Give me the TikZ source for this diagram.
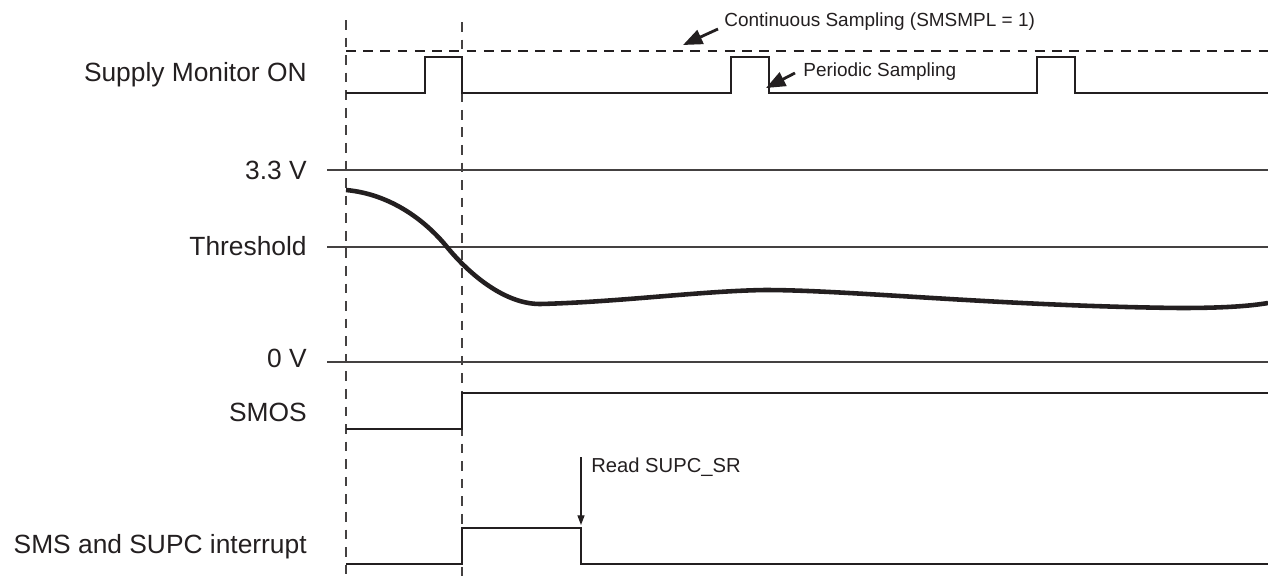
\documentclass[tikz,border=0pt]{standalone}
\usepackage{fontspec}
\setmainfont{Liberation Sans}
\usetikzlibrary{arrows.meta}
\definecolor{ink}{RGB}{35,31,32}
\tikzset{
  biglabel/.style={anchor=east, inner sep=0pt, text=ink, font=\fontsize{15}{18}\selectfont},
  smalllabel/.style={anchor=west, inner sep=0pt, text=ink, font=\fontsize{10.8}{13}\selectfont},
  wave/.style={draw=ink, line width=1.45pt, line join=miter},
  level/.style={draw=ink!85, line width=0.8pt},
  guide/.style={draw=ink!85, line width=0.6pt, dash pattern=on 5.5pt off 4.5pt},
  contline/.style={draw=ink, line width=1.15pt, dash pattern=on 5.6pt off 4.2pt},
  volt/.style={draw=ink, line width=2.6pt},
  bigarrow/.style={draw=ink, line width=1.6pt, -{Triangle[length=11pt,width=8.5pt]}},
  readarrow/.style={draw=ink, line width=0.7pt, -{Triangle[length=5.5pt,width=4pt]}}
}
\begin{document}
\begin{tikzpicture}[x=0.02cm,y=-0.02cm]
\useasboundingbox (0,0) rectangle (1268,582);

% guide dashed verticals
\coordinate (g1t) at (346,20); \coordinate (g1b) at (346,582);
\coordinate (g2t) at (462,22); \coordinate (g2b) at (462,582);
\draw[guide] (g1t) -- (g1b);
\draw[guide] (g2t) -- (g2b);

% labels
\node[biglabel] (lsm) at (307,75) {Supply Monitor ON};
\node[biglabel] (l33) at (307,170) {3.3 V};
\node[biglabel] (lth) at (307,246) {Threshold};
\node[biglabel] (l0v) at (307,358) {0 V};
\node[biglabel] (lsmos) at (307,412) {SMOS};
\node[biglabel] (lint) at (307,547) {SMS and SUPC interrupt};

% level lines
\coordinate (a33) at (327,170); \coordinate (b33) at (1268,170);
\coordinate (ath) at (327,247); \coordinate (bth) at (1268,247);
\coordinate (a0v) at (327,362); \coordinate (b0v) at (1268,362);
\draw[level] (a33) -- (b33);
\draw[level] (ath) -- (bth);
\draw[level] (a0v) -- (b0v);

% continuous sampling dashed line
\coordinate (cs1) at (346,51); \coordinate (cs2) at (1268,51);
\draw[contline] (cs1) -- (cs2);

% supply monitor ON waveform
\coordinate (sm0) at (346,93);
\draw[wave] (sm0) -- (425,93) -- (425,57) -- (462,57) -- (462,93)
  -- (731,93) -- (731,57) -- (769,57) -- (769,93)
  -- (1037,93) -- (1037,57) -- (1075,57) -- (1075,93) -- (1268,93);

% supply voltage curve
\coordinate (v0) at (346,190);
\draw[volt] (v0) .. controls (390,194) and (425,220) .. (447,247)
  .. controls (470,275) and (505,304) .. (540,304)
  .. controls (620,302) and (700,291) .. (765,290)
  .. controls (850,290) and (1000,306) .. (1180,308)
  .. controls (1225,308) and (1250,306) .. (1268,303);

% SMOS
\coordinate (smos0) at (346,429);
\draw[wave] (smos0) -- (462,429) -- (462,393) -- (1268,393);

% interrupt
\coordinate (int0) at (346,564);
\coordinate (intr) at (581,528);
\draw[wave] (int0) -- (462,564) -- (462,528) -- (intr) -- (581,564) -- (1268,564);

% annotations
\node[smalllabel] (tcont) at (724,22) {Continuous Sampling (SMSMPL = 1)};
\node[smalllabel] (tper) at (803,72) {Periodic Sampling};
\node[smalllabel, font=\fontsize{11.5}{14}\selectfont] (tread) at (591,467) {Read SUPC\_SR};

\coordinate (cA) at (718,29); \coordinate (cB) at (683,45);
\draw[bigarrow] (cA) -- (cB);
\coordinate (pA) at (795,73); \coordinate (pB) at (766,88);
\draw[bigarrow] (pA) -- (pB);
\coordinate (rA) at (581,457); \coordinate (rB) at (581,525);
\draw[readarrow] (rA) -- (rB);
\end{tikzpicture}
\end{document}
